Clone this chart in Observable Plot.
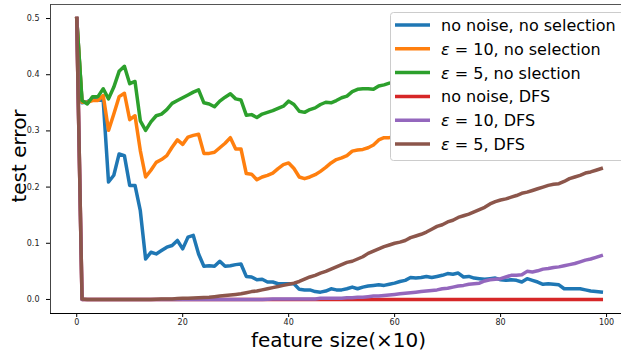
<!DOCTYPE html>
<html><head><meta charset="utf-8">
<script src="https://cdn.jsdelivr.net/npm/d3@7"></script>
<script src="https://cdn.jsdelivr.net/npm/@observablehq/plot@0.6"></script>
<style>body{margin:0;background:#fff} svg{display:block}</style>
</head><body><div id="chart"></div>
<script>
const featureSize = d3.range(100);
const xTicks = [0, 20, 40, 60, 80, 100];
const yTicks = [0, 0.1, 0.2, 0.3, 0.4, 0.5];
const seriesNames = ["no noise, no selection", "ε = 10, no selection", "ε = 5, no slection", "no noise, DFS", "ε = 10, DFS", "ε = 5, DFS"];
const seriesColors = ["#1f77b4", "#ff7f0e", "#2ca02c", "#d62728", "#9467bd", "#8c564b"];

const noNoiseNoSel = [0.5,0.350,0.352,0.356,0.355,0.354,0.209,0.221,0.259,0.256,
0.203,0.203,0.158,0.072,0.084,0.081,0.087,0.093,0.096,0.105,
0.090,0.111,0.114,0.081,0.059,0.060,0.059,0.068,0.059,0.060,
0.062,0.063,0.041,0.040,0.035,0.036,0.031,0.031,0.028,0.028,
0.028,0.028,0.018,0.017,0.017,0.014,0.013,0.015,0.019,0.017,
0.017,0.019,0.022,0.019,0.022,0.024,0.025,0.026,0.025,0.027,
0.029,0.032,0.034,0.039,0.038,0.039,0.041,0.039,0.041,0.043,
0.046,0.045,0.047,0.040,0.041,0.038,0.037,0.036,0.037,0.038,
0.035,0.034,0.035,0.034,0.031,0.037,0.034,0.031,0.027,0.028,
0.027,0.026,0.019,0.019,0.019,0.019,0.017,0.015,0.014,0.013];

const eps10NoSel = [0.5,0.351,0.351,0.354,0.354,0.363,0.301,0.330,0.361,0.367,
0.320,0.327,0.265,0.218,0.230,0.244,0.249,0.256,0.271,0.284,
0.276,0.289,0.292,0.294,0.260,0.260,0.262,0.270,0.278,0.288,
0.268,0.268,0.224,0.223,0.213,0.218,0.221,0.225,0.233,0.240,
0.243,0.233,0.218,0.215,0.218,0.222,0.228,0.235,0.243,0.249,
0.252,0.256,0.264,0.266,0.267,0.270,0.275,0.284,0.288,0.288,
0.290,0.291,0.293,0.294,0.296,0.298,0.299,0.301,0.302,0.304,
0.305,0.306,0.308,0.309,0.311,0.312,0.313,0.314,0.316,0.317,
0.318,0.319,0.320,0.321,0.322,0.323,0.324,0.325,0.326,0.327,
0.328,0.329,0.330,0.331,0.331,0.332,0.333,0.334,0.335,0.336];

const eps5NoSel = [0.5,0.354,0.348,0.361,0.361,0.375,0.357,0.378,0.406,0.415,
0.384,0.388,0.318,0.301,0.316,0.327,0.330,0.338,0.349,0.354,
0.359,0.364,0.369,0.373,0.350,0.348,0.343,0.353,0.360,0.366,
0.357,0.355,0.328,0.329,0.324,0.330,0.333,0.336,0.340,0.344,
0.353,0.347,0.335,0.333,0.338,0.341,0.347,0.351,0.350,0.354,
0.359,0.362,0.370,0.374,0.375,0.375,0.374,0.380,0.382,0.385,
0.387,0.389,0.390,0.392,0.393,0.394,0.396,0.397,0.398,0.399,
0.400,0.401,0.402,0.403,0.404,0.405,0.406,0.407,0.408,0.409,
0.410,0.411,0.412,0.413,0.413,0.414,0.415,0.416,0.417,0.418,
0.418,0.419,0.420,0.421,0.421,0.422,0.423,0.424,0.424,0.425];

const noNoiseDFS = [0.5,0,0,0,0,0,0,0,0,0,
0,0,0,0,0,0,0,0,0,0,
0,0,0,0,0,0,0,0,0,0,
0,0,0,0,0,0,0,0,0,0,
0,0,0,0,0,0,0,0,0,0,
0,0,0,0,0,0,0,0,0,0,
0,0,0,0,0,0,0,0,0,0,
0,0,0,0,0,0,0,0,0,0,
0,0,0,0,0,0,0,0,0,0,
0,0,0,0,0,0,0,0,0,0];

const eps10DFS = [0.5,0,0,0,0,0,0,0,0,0,
0,0,0,0,0,0,0,0,0,0,
0,0,0,0,0,0,0,0,0,0,
0,0,0,0,0,0,0.0005,0.001,0.001,0.001,
0.001,0.001,0.001,0.001,0.001,0.001,0.002,0.002,0.002,0.002,
0.002,0.003,0.003,0.004,0.004,0.005,0.006,0.006,0.007,0.008,
0.009,0.010,0.011,0.012,0.013,0.014,0.015,0.016,0.017,0.019,
0.020,0.022,0.024,0.025,0.027,0.028,0.029,0.033,0.035,0.036,
0.037,0.040,0.043,0.043,0.044,0.050,0.049,0.051,0.054,0.055,
0.057,0.058,0.060,0.062,0.064,0.067,0.070,0.072,0.075,0.078];

const eps5DFS = [0.5,0.001,0,0,0,0,0,0,0,0,
0,0,0,0,0,0.0005,0.001,0.001,0.001,0.0015,
0.002,0.002,0.0025,0.003,0.0035,0.004,0.005,0.006,0.007,0.008,
0.009,0.010,0.012,0.014,0.015,0.017,0.019,0.021,0.023,0.025,
0.027,0.029,0.032,0.036,0.040,0.043,0.047,0.050,0.054,0.058,
0.062,0.066,0.068,0.072,0.076,0.082,0.086,0.090,0.094,0.097,
0.100,0.102,0.105,0.110,0.113,0.116,0.120,0.125,0.130,0.133,
0.138,0.141,0.146,0.149,0.152,0.156,0.160,0.164,0.170,0.174,
0.177,0.179,0.182,0.185,0.189,0.191,0.194,0.197,0.200,0.203,
0.205,0.206,0.210,0.215,0.218,0.221,0.225,0.227,0.230,0.233];

const allSeries = [noNoiseNoSel, eps10NoSel, eps5NoSel, noNoiseDFS, eps10DFS, eps5DFS];
const rows = [];
allSeries.forEach((vals, k) => vals.forEach((v, i) => rows.push({x: featureSize[i], y: v, series: seriesNames[k]})));

const chart = Plot.plot({
  width: 621, height: 350,
  marginLeft: 50, marginTop: 4, marginBottom: 37, marginRight: 0,
  style: {fontFamily: "DejaVu Sans", fontSize: "8px", color: "#222", background: "#fff", overflow: "hidden"},
  x: {domain: [-4.95, 103.95], range: [50, 627]},
  y: {domain: [-0.025, 0.525], range: [313, 4]},
  color: {domain: seriesNames, range: seriesColors},
  marks: [
    Plot.axisX({ticks: xTicks, tickSize: 4, tickPadding: 2, label: null, stroke: "#000"}),
    Plot.axisY({ticks: yTicks, tickSize: 4, tickPadding: 7, tickFormat: d3.format(".1f"), label: null, stroke: "#000"}),
    Plot.line(rows, {x: "x", y: "y", z: "series", stroke: "series", strokeWidth: 3.5, strokeLinejoin: "round", strokeLinecap: "square"}),
    Plot.ruleY([-0.025], {stroke: "#000", strokeWidth: 1}),
    Plot.ruleY([0.525], {stroke: "#555", strokeWidth: 1}),
    Plot.ruleX([-4.95], {stroke: "#444", strokeWidth: 1})
  ]
});
document.getElementById("chart").appendChild(chart);

const svg = d3.select(chart);
svg.append("text").attr("x", 338.5).attr("y", 346.5).attr("text-anchor", "middle")
  .attr("font-size", 20).attr("fill", "#000").text("feature size(×10)");
svg.append("text").attr("transform", "translate(26,156) rotate(-90)").attr("text-anchor", "middle")
  .attr("font-size", 20).attr("fill", "#000").text("test error");

const lg = svg.append("g").attr("text-anchor", "start");
lg.append("rect").attr("x", 390.5).attr("y", 12.5).attr("width", 240).attr("height", 148).attr("rx", 3)
  .attr("fill", "#fff").attr("fill-opacity", 1).attr("stroke", "#ccc");
seriesNames.forEach((name, k) => {
  const y = 25 + k * 23.8;
  lg.append("line").attr("x1", 395).attr("x2", 430).attr("y1", y).attr("y2", y)
    .attr("stroke", seriesColors[k]).attr("stroke-width", 3.5);
  const t = lg.append("text").attr("x", 441).attr("y", y + 6).attr("font-size", 16)
    .attr("fill", "#000").attr("text-anchor", "start");
  if (name.startsWith("ε")) {
    t.append("tspan").attr("font-style", "italic").text("ε");
    t.append("tspan").text(name.slice(1));
  } else {
    t.text(name);
  }
});
</script>
</body></html>
